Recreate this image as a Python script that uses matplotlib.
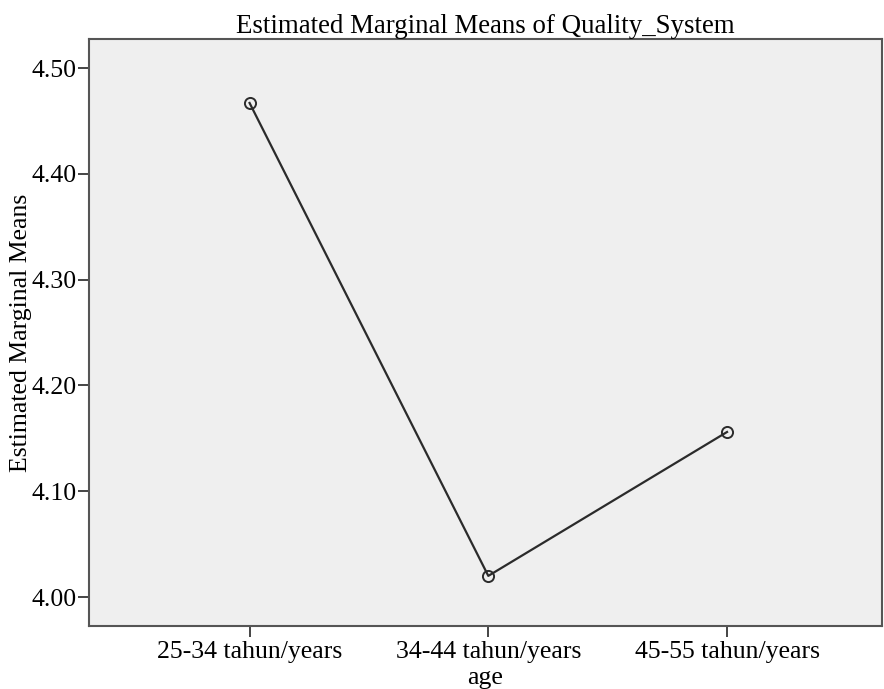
import matplotlib
matplotlib.use("Agg")
import matplotlib.pyplot as plt

categories = ["25-34 tahun/years", "34-44 tahun/years", "45-55 tahun/years"]
means = [4.467, 4.020, 4.156]
yticks = [4.00, 4.10, 4.20, 4.30, 4.40, 4.50]

plt.rcParams['font.family'] = ['Liberation Serif', 'DejaVu Serif']

fig = plt.figure(figsize=(8.84, 6.89), dpi=100)
ax = fig.add_axes([0.1003, 0.0914, 0.8974, 0.8513])
ax.set_facecolor('#efefef')

x = list(range(len(categories)))
ax.plot(x, means, color='#2b2b2b', linewidth=1.6, marker='o', markersize=8,
        markerfacecolor='none', markeredgecolor='#2b2b2b', markeredgewidth=1.4)

ax.set_xlim(-0.674, 2.649)
ax.set_ylim(3.9726, 4.527)
ax.set_xticks(x)
ax.set_xticklabels(categories)
ax.set_yticks(yticks)
ax.set_yticklabels([f"{v:.2f}" for v in yticks])
ax.tick_params(axis='both', labelsize=18.5, length=8, width=1.4, color='#444444', pad=1)
ax.tick_params(axis='x', pad=3)
for s in ax.spines.values():
    s.set_color('#555555')
    s.set_linewidth(1.5)

ax.set_title("Estimated Marginal Means of Quality_System", fontsize=19.4, pad=4)
ax.set_ylabel("Estimated Marginal Means", fontsize=18.5)
ax.yaxis.set_label_coords(-0.0715, 0.5)
ax.set_xlabel("age", fontsize=18.5, labelpad=3)

fig.savefig("out.png", dpi=100)
